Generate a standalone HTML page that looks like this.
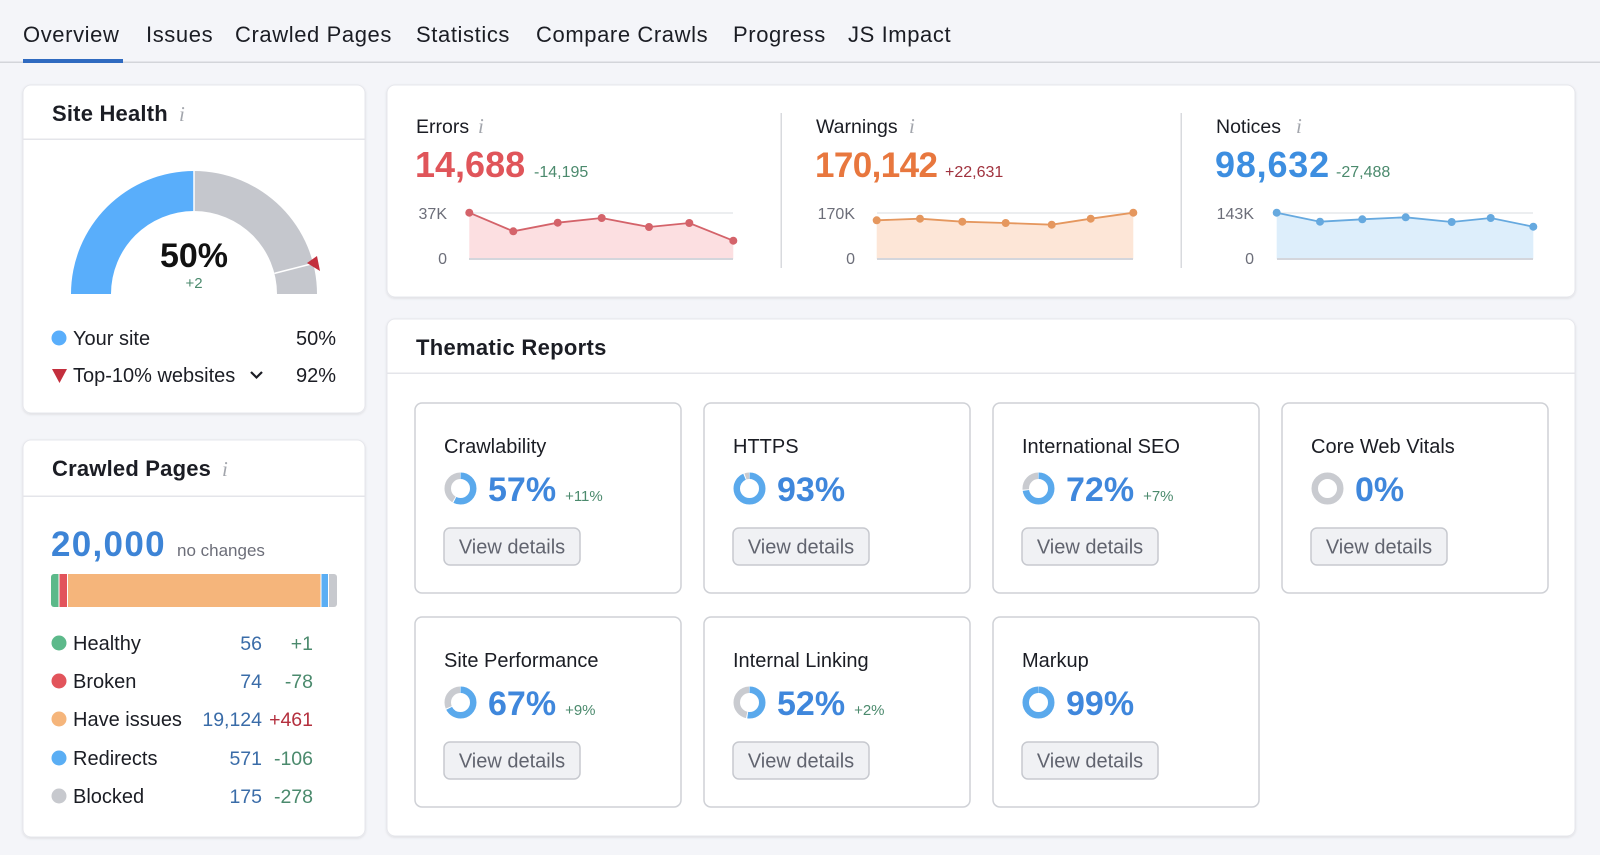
<!DOCTYPE html>
<html>
<head>
<meta charset="utf-8">
<style>
html,body{margin:0;padding:0;background:#f4f5f9;}
body{width:1600px;height:855px;overflow:hidden;}
svg{display:block;}
text{font-family:"Liberation Sans",Arial,sans-serif;}
.info{font-family:"Liberation Serif",serif;font-style:italic;fill:#a3a6ad;font-size:21px;}
</style>
</head>
<body>
<svg width="1600" height="855" viewBox="0 0 1600 855" xmlns="http://www.w3.org/2000/svg">
<defs>
  <filter id="sh" x="-5%" y="-5%" width="110%" height="110%">
    <feDropShadow dx="0" dy="1" stdDeviation="1.2" flood-color="#000" flood-opacity="0.10"/>
  </filter>
  <clipPath id="barclip"><rect x="51" y="574" width="286" height="33" rx="3"/></clipPath>
</defs>
<rect width="1600" height="855" fill="#f4f5f9"/>

<!-- Tabs -->
<g font-size="22" fill="#1b1d24" letter-spacing="0.6">
  <text x="23" y="42">Overview</text>
  <text x="146" y="42">Issues</text>
  <text x="235" y="42">Crawled Pages</text>
  <text x="416" y="42">Statistics</text>
  <text x="536" y="42">Compare Crawls</text>
  <text x="733" y="42">Progress</text>
  <text x="848" y="42">JS Impact</text>
</g>
<rect x="0" y="61.5" width="1600" height="1.5" fill="#d3d5da"/>
<rect x="23" y="59" width="100" height="4" fill="#2f6ac0"/>

<!-- Panels -->
<g fill="#fff" stroke="#e6e7ec" stroke-width="1" filter="url(#sh)">
  <rect x="23" y="85" width="342" height="328" rx="8"/>
  <rect x="23" y="440" width="342" height="397" rx="8"/>
  <rect x="387" y="85" width="1188" height="212" rx="8"/>
  <rect x="387" y="319" width="1188" height="517" rx="8"/>
</g>
<g fill="#e4e5ea">
  <rect x="23" y="138.5" width="342" height="1.5"/>
  <rect x="23" y="495.5" width="342" height="1.5"/>
  <rect x="387" y="372.5" width="1188" height="1.5"/>
</g>

<!-- Site Health -->
<text x="52" y="121" font-size="22" font-weight="bold" fill="#1b1d24" letter-spacing="0.2">Site Health</text>
<text class="info" x="179" y="121">i</text>
<path d="M71 294 A123 123 0 0 1 194 171 L194 211 A83 83 0 0 0 111 294 Z" fill="#59aefb"/>
<path d="M194 171 A123 123 0 0 1 317 294 L277 294 A83 83 0 0 0 194 211 Z" fill="#c5c7cd"/>
<line x1="194" y1="170" x2="194" y2="212" stroke="#fff" stroke-width="1.5"/>
<line x1="274.4" y1="273.4" x2="315" y2="263" stroke="#fff" stroke-width="1.5"/>
<polygon points="307,263 317,256 320,271" fill="#c32f3d"/>
<text x="194" y="267" font-size="34" font-weight="bold" fill="#111" text-anchor="middle">50%</text>
<text x="194" y="288" font-size="15" fill="#4b8a6d" text-anchor="middle">+2</text>

<circle cx="59" cy="338" r="7.5" fill="#59aefb"/>
<text x="73" y="345" font-size="20" fill="#1b1d24">Your site</text>
<text x="336" y="345" font-size="20" fill="#1b1d24" text-anchor="end">50%</text>
<polygon points="52,369 67,369 59.5,383" fill="#c32f3d"/>
<text x="73" y="382" font-size="20" fill="#1b1d24">Top-10% websites</text>
<polyline points="251,372 256.5,377.5 262,372" fill="none" stroke="#1b1d24" stroke-width="2.2"/>
<text x="336" y="382" font-size="20" fill="#1b1d24" text-anchor="end">92%</text>

<!-- Crawled Pages -->
<text x="52" y="476" font-size="22" font-weight="bold" fill="#1b1d24" letter-spacing="0.2">Crawled Pages</text>
<text class="info" x="222" y="476">i</text>
<text x="51" y="556" font-size="35" font-weight="bold" fill="#3d84d6" letter-spacing="1.3">20,000</text>
<text x="177" y="556" font-size="17" fill="#6c6e79">no changes</text>
<g clip-path="url(#barclip)">
  <rect x="51" y="574" width="7.5" height="33" fill="#5cb98a"/>
  <rect x="59.5" y="574" width="7.5" height="33" fill="#e2545b"/>
  <rect x="68" y="574" width="252.5" height="33" fill="#f5b57b"/>
  <rect x="321.5" y="574" width="6.5" height="33" fill="#5aaef4"/>
  <rect x="329" y="574" width="8" height="33" fill="#c7c9ce"/>
</g>
<g font-size="20" fill="#1b1d24">
  <circle cx="59" cy="643" r="7.5" fill="#5cb98a"/><text x="73" y="650">Healthy</text>
  <circle cx="59" cy="681" r="7.5" fill="#e2545b"/><text x="73" y="688">Broken</text>
  <circle cx="59" cy="719" r="7.5" fill="#f5b57b"/><text x="73" y="726">Have issues</text>
  <circle cx="59" cy="758" r="7.5" fill="#5aaef4"/><text x="73" y="765">Redirects</text>
  <circle cx="59" cy="796" r="7.5" fill="#c7c9ce"/><text x="73" y="803">Blocked</text>
</g>
<g font-size="19.5" fill="#3a6ca8" text-anchor="end">
  <text x="262" y="650">56</text>
  <text x="262" y="688">74</text>
  <text x="262" y="726">19,124</text>
  <text x="262" y="765">571</text>
  <text x="262" y="803">175</text>
</g>
<g font-size="19.5" fill="#4b8a6d" text-anchor="end">
  <text x="313" y="650">+1</text>
  <text x="313" y="688">-78</text>
  <text x="313" y="726" fill="#b4303e">+461</text>
  <text x="313" y="765">-106</text>
  <text x="313" y="803">-278</text>
</g>

<!-- Top summary panel -->
<rect x="780.5" y="113" width="1.5" height="155" fill="#d8dade"/>
<rect x="1180.5" y="113" width="1.5" height="155" fill="#d8dade"/>

<!-- Errors -->
<text x="416" y="133" font-size="19.5" fill="#1b1d24">Errors</text>
<text class="info" x="478" y="133">i</text>
<text x="415" y="177" font-size="36" font-weight="bold" fill="#e0555a">14,688</text>
<text x="534" y="177" font-size="16" fill="#4b8a6d">-14,195</text>
<g font-size="16" fill="#6c6e79" text-anchor="end">
  <text x="447" y="219">37K</text>
  <text x="447" y="264">0</text>
</g>
<line x1="469" y1="213" x2="733" y2="213" stroke="#e6e8ec" stroke-width="1.5"/>
<polygon points="469.3,212.7 513.3,231.3 557.7,222.7 601.7,218 649,227 689.3,223 733.3,240.7 733.3,259 469.3,259" fill="#fcdfe1"/>
<line x1="469" y1="259" x2="733" y2="259" stroke="#d4d6dc" stroke-width="2"/>
<polyline points="469.3,212.7 513.3,231.3 557.7,222.7 601.7,218 649,227 689.3,223 733.3,240.7" fill="none" stroke="#d4636a" stroke-width="1.8"/>
<g fill="#d4636a">
  <circle cx="469.3" cy="212.7" r="4"/><circle cx="513.3" cy="231.3" r="4"/><circle cx="557.7" cy="222.7" r="4"/>
  <circle cx="601.7" cy="218" r="4"/><circle cx="649" cy="227" r="4"/><circle cx="689.3" cy="223" r="4"/><circle cx="733.3" cy="240.7" r="4"/>
</g>

<!-- Warnings -->
<text x="816" y="133" font-size="19.5" fill="#1b1d24">Warnings</text>
<text class="info" x="909" y="133">i</text>
<text x="815" y="177" font-size="35" font-weight="bold" fill="#e8773e" letter-spacing="-0.6">170,142</text>
<text x="945" y="177" font-size="16" fill="#a0323e">+22,631</text>
<g font-size="16" fill="#6c6e79" text-anchor="end">
  <text x="855" y="219">170K</text>
  <text x="855" y="264">0</text>
</g>
<line x1="877" y1="213" x2="1133" y2="213" stroke="#e6e8ec" stroke-width="1.5"/>
<polygon points="876.7,220.3 920,218.7 962.3,221.7 1005.7,223 1051.7,224.7 1090.7,218.7 1133.3,212.7 1133.3,259 876.7,259" fill="#fde6d7"/>
<line x1="877" y1="259" x2="1133" y2="259" stroke="#d4d6dc" stroke-width="2"/>
<polyline points="876.7,220.3 920,218.7 962.3,221.7 1005.7,223 1051.7,224.7 1090.7,218.7 1133.3,212.7" fill="none" stroke="#e5975e" stroke-width="1.8"/>
<g fill="#e5975e">
  <circle cx="876.7" cy="220.3" r="4"/><circle cx="920" cy="218.7" r="4"/><circle cx="962.3" cy="221.7" r="4"/>
  <circle cx="1005.7" cy="223" r="4"/><circle cx="1051.7" cy="224.7" r="4"/><circle cx="1090.7" cy="218.7" r="4"/><circle cx="1133.3" cy="212.7" r="4"/>
</g>

<!-- Notices -->
<text x="1216" y="133" font-size="19.5" fill="#1b1d24">Notices</text>
<text class="info" x="1296" y="133">i</text>
<text x="1215" y="177" font-size="36" font-weight="bold" fill="#3d8ee0" letter-spacing="0.8">98,632</text>
<text x="1336" y="177" font-size="16" fill="#4b8a6d">-27,488</text>
<g font-size="16" fill="#6c6e79" text-anchor="end">
  <text x="1254" y="219">143K</text>
  <text x="1254" y="264">0</text>
</g>
<line x1="1277" y1="213" x2="1533" y2="213" stroke="#e6e8ec" stroke-width="1.5"/>
<polygon points="1276.7,212.7 1320,221.7 1362.3,219.3 1405.7,217.3 1451.7,222 1490.7,218 1533.3,226.7 1533.3,259 1276.7,259" fill="#ddeefb"/>
<line x1="1277" y1="259" x2="1533" y2="259" stroke="#d4d6dc" stroke-width="2"/>
<polyline points="1276.7,212.7 1320,221.7 1362.3,219.3 1405.7,217.3 1451.7,222 1490.7,218 1533.3,226.7" fill="none" stroke="#66a9df" stroke-width="1.8"/>
<g fill="#66a9df">
  <circle cx="1276.7" cy="212.7" r="4"/><circle cx="1320" cy="221.7" r="4"/><circle cx="1362.3" cy="219.3" r="4"/>
  <circle cx="1405.7" cy="217.3" r="4"/><circle cx="1451.7" cy="222" r="4"/><circle cx="1490.7" cy="218" r="4"/><circle cx="1533.3" cy="226.7" r="4"/>
</g>

<!-- Thematic Reports -->
<text x="416" y="355" font-size="22" font-weight="bold" fill="#1b1d24" letter-spacing="0.3">Thematic Reports</text>

<!-- card template values: C = 80.11 (r=12.75) -->
<g stroke="#cfd1d6" stroke-width="1.5" fill="#fff">
  <rect x="415" y="403" width="266" height="190" rx="7"/>
  <rect x="704" y="403" width="266" height="190" rx="7"/>
  <rect x="993" y="403" width="266" height="190" rx="7"/>
  <rect x="1282" y="403" width="266" height="190" rx="7"/>
  <rect x="415" y="617" width="266" height="190" rx="7"/>
  <rect x="704" y="617" width="266" height="190" rx="7"/>
  <rect x="993" y="617" width="266" height="190" rx="7"/>
</g>

<g font-size="20" fill="#1b1d24">
  <text x="444" y="453">Crawlability</text>
  <text x="733" y="453">HTTPS</text>
  <text x="1022" y="453">International SEO</text>
  <text x="1311" y="453">Core Web Vitals</text>
  <text x="444" y="667">Site Performance</text>
  <text x="733" y="667">Internal Linking</text>
  <text x="1022" y="667">Markup</text>
</g>

<!-- donuts -->
<g fill="none" stroke-width="6.5">
  <!-- Crawlability 57% -->
  <g transform="rotate(-90 460.5 488.5)">
    <circle cx="460.5" cy="488.5" r="12.75" stroke="#c9cbd0" stroke-dasharray="32.45 47.66" stroke-dashoffset="-46.66"/>
    <circle cx="460.5" cy="488.5" r="12.75" stroke="#5aa9ec" stroke-dasharray="45.66 34.45"/>
  </g>
  <!-- HTTPS 93% -->
  <g transform="rotate(-90 749.5 488.5)">
    <circle cx="749.5" cy="488.5" r="12.75" stroke="#c9cbd0" stroke-dasharray="3.6 76.51" stroke-dashoffset="-75.5"/>
    <circle cx="749.5" cy="488.5" r="12.75" stroke="#5aa9ec" stroke-dasharray="74.5 5.61"/>
  </g>
  <!-- International SEO 72% -->
  <g transform="rotate(-90 1038.5 488.5)">
    <circle cx="1038.5" cy="488.5" r="12.75" stroke="#c9cbd0" stroke-dasharray="20.4 59.71" stroke-dashoffset="-58.7"/>
    <circle cx="1038.5" cy="488.5" r="12.75" stroke="#5aa9ec" stroke-dasharray="57.7 22.41"/>
  </g>
  <!-- Core Web Vitals 0% -->
  <circle cx="1327.5" cy="488.5" r="12.75" stroke="#c9cbd0"/>
  <!-- Site Performance 67% -->
  <g transform="rotate(-90 460.5 702.5)">
    <circle cx="460.5" cy="702.5" r="12.75" stroke="#c9cbd0" stroke-dasharray="24.4 55.71" stroke-dashoffset="-54.7"/>
    <circle cx="460.5" cy="702.5" r="12.75" stroke="#5aa9ec" stroke-dasharray="53.7 26.41"/>
  </g>
  <!-- Internal Linking 52% -->
  <g transform="rotate(-90 749.5 702.5)">
    <circle cx="749.5" cy="702.5" r="12.75" stroke="#c9cbd0" stroke-dasharray="36.45 43.66" stroke-dashoffset="-42.66"/>
    <circle cx="749.5" cy="702.5" r="12.75" stroke="#5aa9ec" stroke-dasharray="41.66 38.45"/>
  </g>
  <!-- Markup 99% -->
  <g transform="rotate(-90 1038.5 702.5)">
    <circle cx="1038.5" cy="702.5" r="12.75" stroke="#5aa9ec" stroke-dasharray="79.3 0.81"/>
  </g>
</g>

<!-- percentages -->
<g font-size="34" font-weight="bold" fill="#3f87dc">
  <text x="488" y="501">57%<tspan dx="9" font-size="15" font-weight="normal" fill="#4b8a6d">+11%</tspan></text>
  <text x="777" y="501">93%</text>
  <text x="1066" y="501">72%<tspan dx="9" font-size="15" font-weight="normal" fill="#4b8a6d">+7%</tspan></text>
  <text x="1355" y="501">0%</text>
  <text x="488" y="715">67%<tspan dx="9" font-size="15" font-weight="normal" fill="#4b8a6d">+9%</tspan></text>
  <text x="777" y="715">52%<tspan dx="9" font-size="15" font-weight="normal" fill="#4b8a6d">+2%</tspan></text>
  <text x="1066" y="715">99%</text>
</g>

<!-- buttons -->
<g fill="#f0f1f4" stroke="#c7c9cf" stroke-width="1.5">
  <rect x="444" y="528" width="136" height="37" rx="6"/>
  <rect x="733" y="528" width="136" height="37" rx="6"/>
  <rect x="1022" y="528" width="136" height="37" rx="6"/>
  <rect x="1311" y="528" width="136" height="37" rx="6"/>
  <rect x="444" y="742" width="136" height="37" rx="6"/>
  <rect x="733" y="742" width="136" height="37" rx="6"/>
  <rect x="1022" y="742" width="136" height="37" rx="6"/>
</g>
<g font-size="20" fill="#61646f" text-anchor="middle">
  <text x="512" y="553.5">View details</text>
  <text x="801" y="553.5">View details</text>
  <text x="1090" y="553.5">View details</text>
  <text x="1379" y="553.5">View details</text>
  <text x="512" y="767.5">View details</text>
  <text x="801" y="767.5">View details</text>
  <text x="1090" y="767.5">View details</text>
</g>
</svg>
</body>
</html>
